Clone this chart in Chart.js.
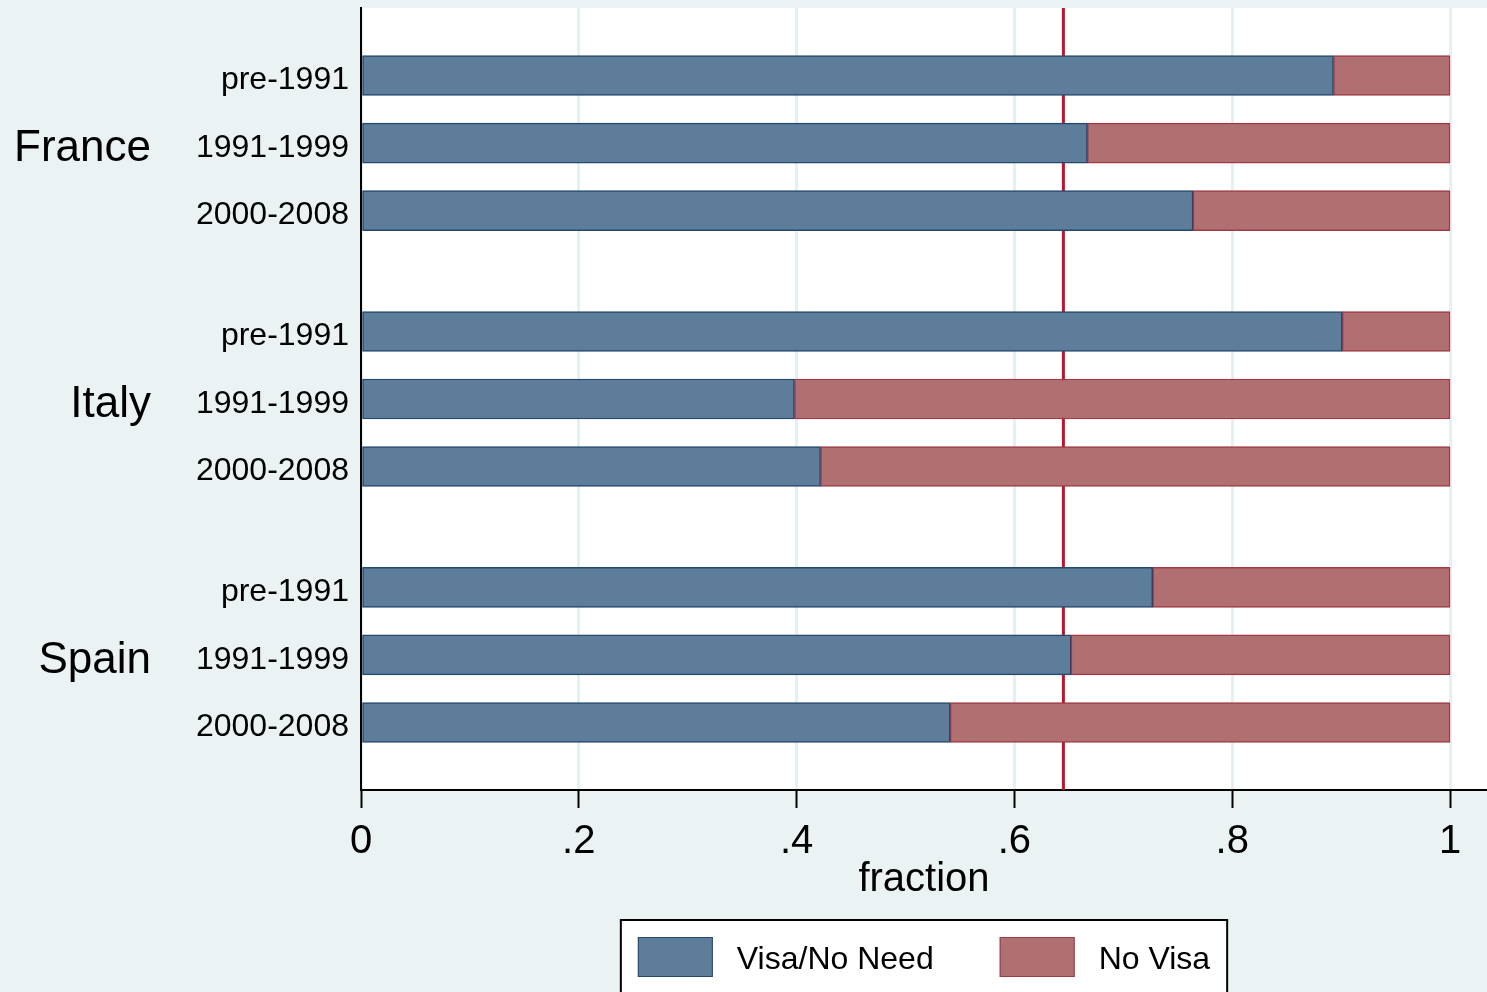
<!DOCTYPE html>
<html>
<head>
<meta charset="utf-8">
<script src="https://cdn.jsdelivr.net/npm/chart.js@4.4.1/dist/chart.umd.min.js"></script>
<style>
  html, body { margin: 0; padding: 0; background: #EAF2F3; overflow: hidden; }
  #wrap { width: 1487px; height: 992px; }
</style>
</head>
<body>
<div id="wrap"><canvas id="visaChart" width="1487" height="992"></canvas></div>
<script>
// Dados
const countries = ['France', 'Italy', 'Spain'];
const periods = ['pre-1991', '1991-1999', '2000-2008'];
const visaNoNeed = [0.893, 0.667, 0.764, 0.901, 0.398, 0.422, 0.727, 0.652, 0.541];
const noVisa = [0.107, 0.333, 0.236, 0.099, 0.602, 0.578, 0.273, 0.348, 0.459];
const refLine = 0.645;
const xTicks = [0, 0.2, 0.4, 0.6, 0.8, 1];
const xTickLabels = ['0', '.2', '.4', '.6', '.8', '1'];

const FONT = '"Liberation Sans", Arial, Helvetica, sans-serif';
const groupGap = 0.79;

// posição de cada barra no eixo y (grupo por país, com espaço entre grupos)
const rowPos = [];
const rowLabels = [];
countries.forEach((c, g) => {
    periods.forEach((p, r) => {
        rowPos.push(g * (periods.length + groupGap) + r);
        rowLabels.push(p);
    });
});

const blueFill = '#5E7D9A', blueLine = '#24496D';
const redFill = '#B07072', redLine = '#A03A45';

// fundo branco da área do gráfico + linha vermelha por baixo das barras
const plotBg = {
    id: 'plotBg',
    beforeDraw(chart) {
        const { ctx, chartArea: a } = chart;
        ctx.save();
        ctx.fillStyle = '#FFFFFF';
        ctx.fillRect(a.left, a.top, a.right - a.left, a.bottom - a.top);
        ctx.restore();
    },
    beforeDatasetsDraw(chart) {
        const { ctx, chartArea: a, scales } = chart;
        const x = scales.x.getPixelForValue(refLine);
        ctx.save();
        ctx.strokeStyle = '#C8102E';
        ctx.lineWidth = 3;
        ctx.beginPath();
        ctx.moveTo(x, a.top);
        ctx.lineTo(x, a.bottom);
        ctx.stroke();
        ctx.restore();
    }
};

// nomes dos países + legenda com moldura
const extras = {
    id: 'extras',
    afterDraw(chart) {
        const { ctx, chartArea: a, scales } = chart;
        ctx.save();
        ctx.fillStyle = '#000';
        ctx.font = '44px ' + FONT;
        ctx.textAlign = 'right';
        ctx.textBaseline = 'middle';
        countries.forEach((c, g) => {
            const mid = rowPos[g * periods.length + 1];
            ctx.fillText(c, 151, scales.y.getPixelForValue(mid) + 6);
        });

        // legenda
        ctx.font = '32px ' + FONT;
        ctx.textAlign = 'left';
        const sw = 75, sh = 40, gapText = 24, gapItem = 66, padX = 17;
        const items = chart.data.datasets.map(d => ({
            text: d.label, fill: d.backgroundColor, line: d.borderColor,
            w: sw + gapText + ctx.measureText(d.label).width
        }));
        const total = items.reduce((s, it) => s + it.w, 0) + gapItem * (items.length - 1) + padX * 2;
        const cx = (a.left + a.right) / 2;
        const boxL = cx - total / 2, boxT = a.bottom + 130;
        ctx.fillStyle = '#FFFFFF';
        ctx.fillRect(boxL, boxT, total, 80);
        ctx.strokeStyle = '#000';
        ctx.lineWidth = 2;
        ctx.strokeRect(boxL, boxT, total, 80);
        let x = boxL + padX;
        const yTop = boxT + 17;
        items.forEach(it => {
            ctx.fillStyle = it.fill;
            ctx.fillRect(x, yTop, sw, sh);
            ctx.strokeStyle = it.line;
            ctx.lineWidth = 1;
            ctx.strokeRect(x + 0.5, yTop + 0.5, sw - 1, sh - 1);
            ctx.fillStyle = '#000';
            ctx.textBaseline = 'middle';
            ctx.fillText(it.text, x + sw + gapText, yTop + sh / 2 + 3);
            x += it.w + gapItem;
        });
        ctx.restore();
    }
};

const ctx = document.getElementById('visaChart').getContext('2d');
new Chart(ctx, {
    type: 'bar',
    data: {
        datasets: [
            {
                label: 'Visa/No Need',
                data: visaNoNeed.map((v, i) => ({ x: v, y: rowPos[i] })),
                backgroundColor: blueFill,
                borderColor: blueLine,
                borderWidth: 1.5,
                borderSkipped: false,
                barThickness: 40
            },
            {
                label: 'No Visa',
                data: noVisa.map((v, i) => ({ x: v, y: rowPos[i] })),
                backgroundColor: redFill,
                borderColor: redLine,
                borderWidth: 1.5,
                borderSkipped: false,
                barThickness: 40
            }
        ]
    },
    options: {
        indexAxis: 'y',
        responsive: false,
        animation: false,
        layout: { padding: { top: 8, bottom: 88, left: 0, right: 0 } },
        plugins: {
            legend: { display: false },
            tooltip: { enabled: false }
        },
        scales: {
            x: {
                type: 'linear',
                stacked: true,
                min: 0,
                max: 1126 / 1089,
                afterFit: s => { s.height = 114; s.paddingRight = 0; },
                afterBuildTicks: s => { s.ticks = xTicks.map(v => ({ value: v })); },
                ticks: {
                    callback: (v, i) => xTickLabels[i],
                    color: '#000',
                    font: { size: 40, family: FONT },
                    padding: 10,
                    maxRotation: 0
                },
                grid: { color: '#E6EFF1', lineWidth: 3, drawTicks: true, tickLength: 18, tickColor: '#000', tickWidth: 2 },
                border: { color: '#000', width: 2 },
                title: {
                    display: true,
                    text: 'fraction',
                    color: '#000',
                    font: { size: 40, family: FONT },
                    padding: { top: 0, bottom: 0 }
                }
            },
            y: {
                type: 'linear',
                stacked: true,
                reverse: true,
                offset: false,
                min: -1,
                max: rowPos[rowPos.length - 1] + 1,
                afterFit: s => { s.width = 361; s.paddingTop = 0; s.paddingBottom = 0; },
                afterBuildTicks: s => { s.ticks = rowPos.map(v => ({ value: v })); },
                ticks: {
                    callback: (v, i) => rowLabels[i],
                    color: '#000',
                    font: { size: 32, family: FONT },
                    padding: 12,
                    labelOffset: 5
                },
                grid: { display: false, drawTicks: false, offset: false },
                border: { color: '#000', width: 2 }
            }
        }
    },
    plugins: [plotBg, extras]
});
</script>
</body>
</html>
